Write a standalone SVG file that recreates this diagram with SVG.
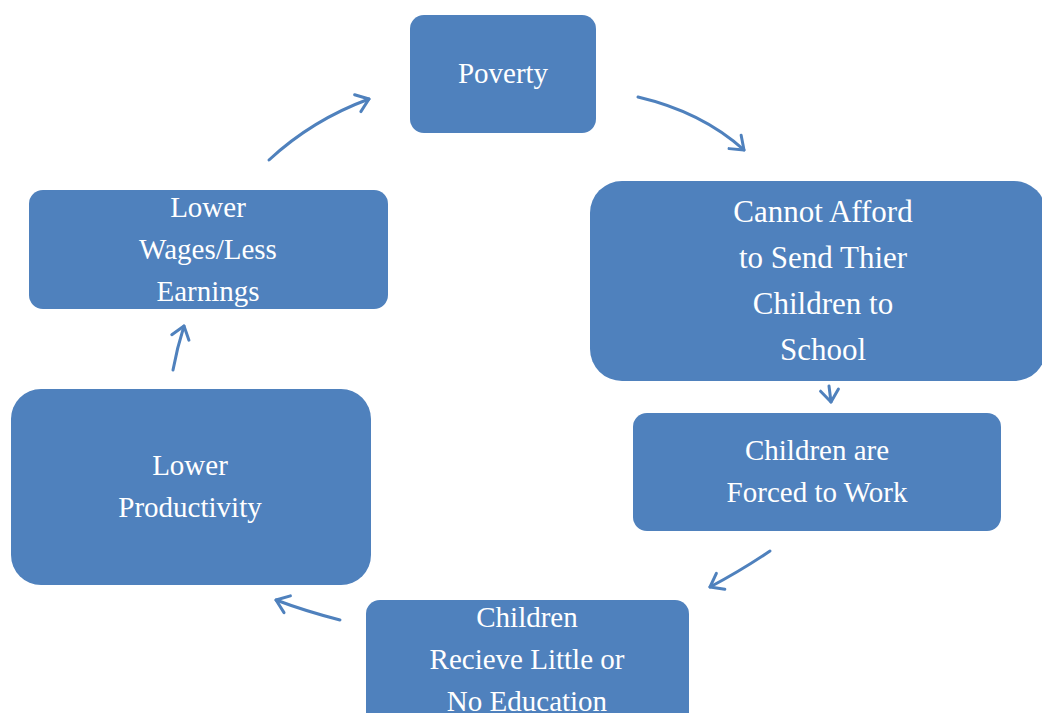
<svg xmlns="http://www.w3.org/2000/svg" width="1042" height="713" viewBox="0 0 1042 713">
<defs>
<style>
.box{fill:#4F81BD;}
.t{font-family:"Liberation Serif","Times New Roman",serif;font-size:29px;fill:#ffffff;text-anchor:middle;}
.tl{font-size:31px;}
.c{fill:none;stroke:#4F81BD;stroke-width:3;stroke-linecap:round;}
</style>
<marker id="ah" markerUnits="userSpaceOnUse" markerWidth="30" markerHeight="30" refX="15" refY="15" orient="auto" overflow="visible">
<path d="M3,6 L15,15 L3,24" fill="none" stroke="#4F81BD" stroke-width="3" stroke-linecap="round" stroke-linejoin="round"/>
</marker>
</defs>
<rect width="1042" height="713" fill="#ffffff"/>
<g id="poverty"><rect class="box" x="410" y="15" width="186" height="118" rx="14"/><text class="t" x="503" y="83">Poverty</text></g>
<g id="cannot-afford"><rect class="box" x="590" y="181" width="456" height="200" rx="32"/><text class="t tl" x="823" y="222">Cannot Afford</text><text class="t tl" x="823" y="268">to Send Thier</text><text class="t tl" x="823" y="314">Children to</text><text class="t tl" x="823" y="360">School</text></g>
<g id="forced-to-work"><rect class="box" x="633" y="413" width="368" height="118" rx="14"/><text class="t" x="817" y="460">Children are</text><text class="t" x="817" y="502">Forced to Work</text></g>
<g id="little-education"><rect class="box" x="366" y="600" width="323" height="130" rx="14"/><text class="t" x="527" y="627">Children</text><text class="t" x="527" y="669">Recieve Little or</text><text class="t" x="527" y="711">No Education</text></g>
<g id="lower-productivity"><rect class="box" x="11" y="389" width="360" height="196" rx="30"/><text class="t" x="190" y="475">Lower</text><text class="t" x="190" y="517">Productivity</text></g>
<g id="lower-wages"><rect class="box" x="29" y="190" width="359" height="119" rx="14"/><text class="t" x="208" y="217">Lower</text><text class="t" x="208" y="259">Wages/Less</text><text class="t" x="208" y="301">Earnings</text></g>
<g id="connectors">
<path class="c" d="M269,160 Q312,120 369,99" marker-end="url(#ah)"/>
<path class="c" d="M638,97 Q702,112 744,150" marker-end="url(#ah)"/>
<path class="c" d="M829,386 L831,402" marker-end="url(#ah)"/>
<path class="c" d="M770,551 Q742,570 710,587" marker-end="url(#ah)"/>
<path class="c" d="M340,620 Q305,611 276,600" marker-end="url(#ah)"/>
<path class="c" d="M173,370 Q177,348 184,326" marker-end="url(#ah)"/>
</g>
</svg>
